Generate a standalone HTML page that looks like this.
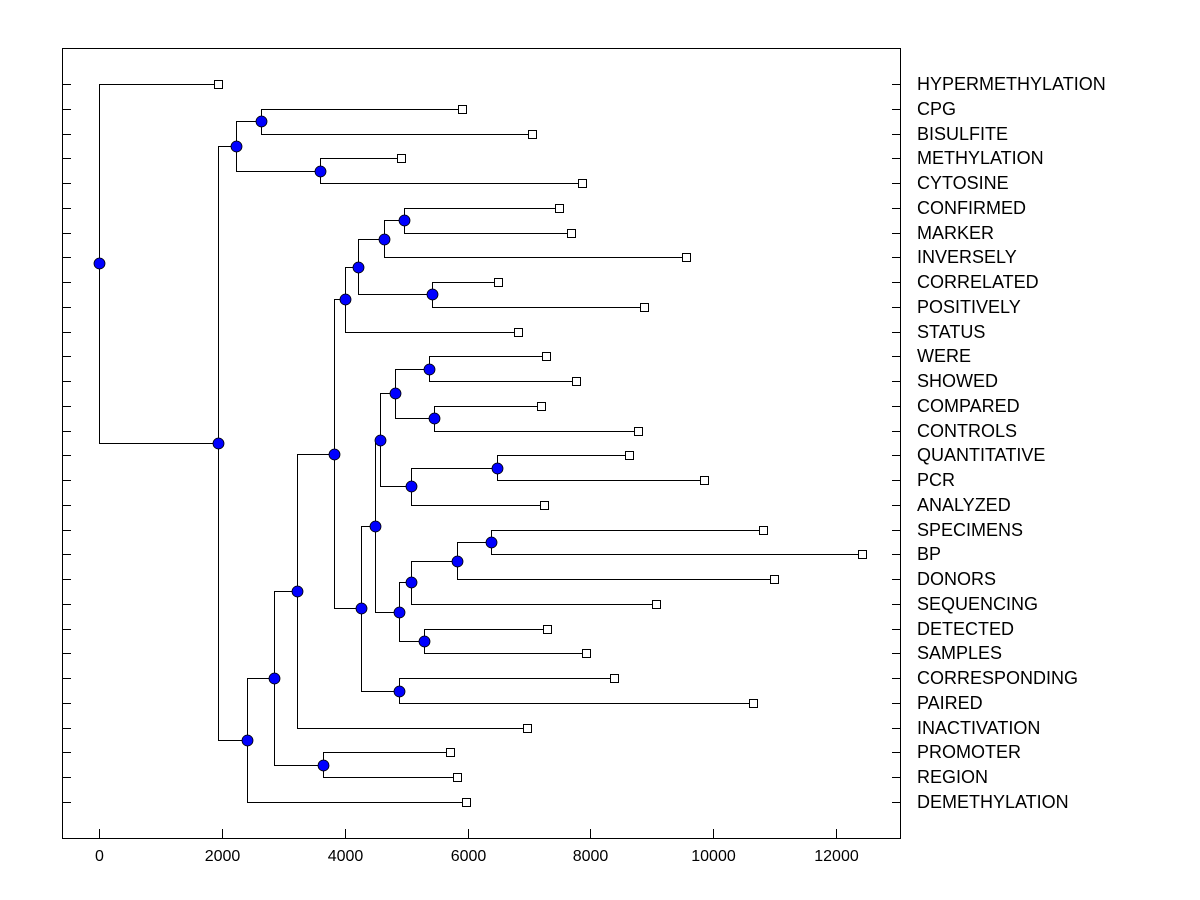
<!DOCTYPE html>
<html><head><meta charset="utf-8"><style>
html,body{margin:0;padding:0;background:#fff;width:1200px;height:900px;overflow:hidden}
text{font-family:"Liberation Sans",Arial,sans-serif}
</style></head><body>
<svg id="chart" width="1200" height="900" xmlns="http://www.w3.org/2000/svg"></svg>
<script>
const leafNames=["HYPERMETHYLATION","CPG","BISULFITE","METHYLATION","CYTOSINE","CONFIRMED","MARKER","INVERSELY","CORRELATED","POSITIVELY","STATUS","WERE","SHOWED","COMPARED","CONTROLS","QUANTITATIVE","PCR","ANALYZED","SPECIMENS","BP","DONORS","SEQUENCING","DETECTED","SAMPLES","CORRESPONDING","PAIRED","INACTIVATION","PROMOTER","REGION","DEMETHYLATION"];
const leafValues=[1937,5910,7050,4917,7864,7489,7685,9557,6496,8873,6822,7278,7766,7196,8776,8629,9850,7245,10811,12423,10990,9069,7294,7929,8385,10648,6968,5715,5829,5975];
// internal nodes: ids start at 30, in order; children refer to leaf index or node id
const mergeLeft =[1,3,30,5,33,8,34,36,11,13,38,15,41,40,18,44,45,22,46,43,24,49,37,52,27,53,55,32,0];
const mergeRight=[2,4,31,6,7,9,35,10,12,14,39,16,17,42,19,20,21,23,47,48,25,50,51,26,28,54,29,56,57];
const mergeHeight=[2638,3598,2231,4966,4640,5422,4217,4005,5373,5454,4819,6480,5080,4575,6382,5829,5080,5291,4884,4494,4884,4266,3826,3224,3647,2849,2410,1937,0];
const xTicks=[0,2000,4000,6000,8000,10000,12000];

const svg=document.getElementById('chart');
const NS="http://www.w3.org/2000/svg";
const X0=62,X1=900,Y0=48,Y1=838;
const xs=v=>99+v*(836-99)/12000;
const ys=i=>84+i*(802-84)/29;
function mk(tag,attrs,parent){const e=document.createElementNS(NS,tag);for(const k in attrs)e.setAttribute(k,attrs[k]);(parent||svg).appendChild(e);return e;}

const frame=mk('rect',{x:X0+0.5,y:Y0+0.5,width:X1-X0,height:Y1-Y0,fill:'none',stroke:'#000','stroke-width':1});



xTicks.forEach(t=>{
  const x=Math.round(xs(t))+0.5;
  const l=mk('line',{x1:x,x2:x,y1:Y1,y2:Y1-9,stroke:'#000'});
  
  
  const tx=mk('text',{x:x,y:861,'text-anchor':'middle','font-size':16,fill:'#000'});
  tx.textContent=t;
  
  
});

const pos={},hgt={};
leafNames.forEach((n,i)=>{pos[i]=ys(i);hgt[i]=leafValues[i];});
mergeHeight.forEach((h,k)=>{const id=30+k;pos[id]=(pos[mergeLeft[k]]+pos[mergeRight[k]])/2;hgt[id]=h;});

const g=mk('g',{stroke:'#000','stroke-width':1,fill:'none'});


mergeHeight.forEach((h,k)=>{
  const x=Math.round(xs(h))+0.5;
  [mergeLeft[k],mergeRight[k]].forEach(c=>{
    const y=Math.round(pos[c])+0.5;
    const cx=Math.round(xs(hgt[c]))+0.5;
    const p=mk('path',{d:`M${x},${Math.round(pos[30+k])+0.5}V${y}H${cx}`},g);
    
    
  });
});

leafNames.forEach((n,i)=>{
  const y=Math.round(ys(i));
  const lt=mk('line',{x1:X0,x2:X0+9,y1:y+0.5,y2:y+0.5,stroke:'#000'});
  
  
  const rt=mk('line',{x1:X1-8,x2:X1,y1:y+0.5,y2:y+0.5,stroke:'#000'});
  
  
  const x=Math.round(xs(leafValues[i]));
  const sq=mk('rect',{x:x-3.5,y:y-3.5,width:8,height:8,fill:'#fff',stroke:'#000'});
  
  
  const t=mk('text',{x:917,y:y+6,'font-size':18,fill:'#000'});
  t.textContent=n;
  
  
});

mergeHeight.forEach((h,k)=>{
  const c=mk('circle',{cx:Math.round(xs(h))+0.5,cy:Math.round(pos[30+k])+0.5,r:5.5,fill:'#0000ff',stroke:'#000','stroke-width':0.8});
  
  
});
</script>
</body></html>
